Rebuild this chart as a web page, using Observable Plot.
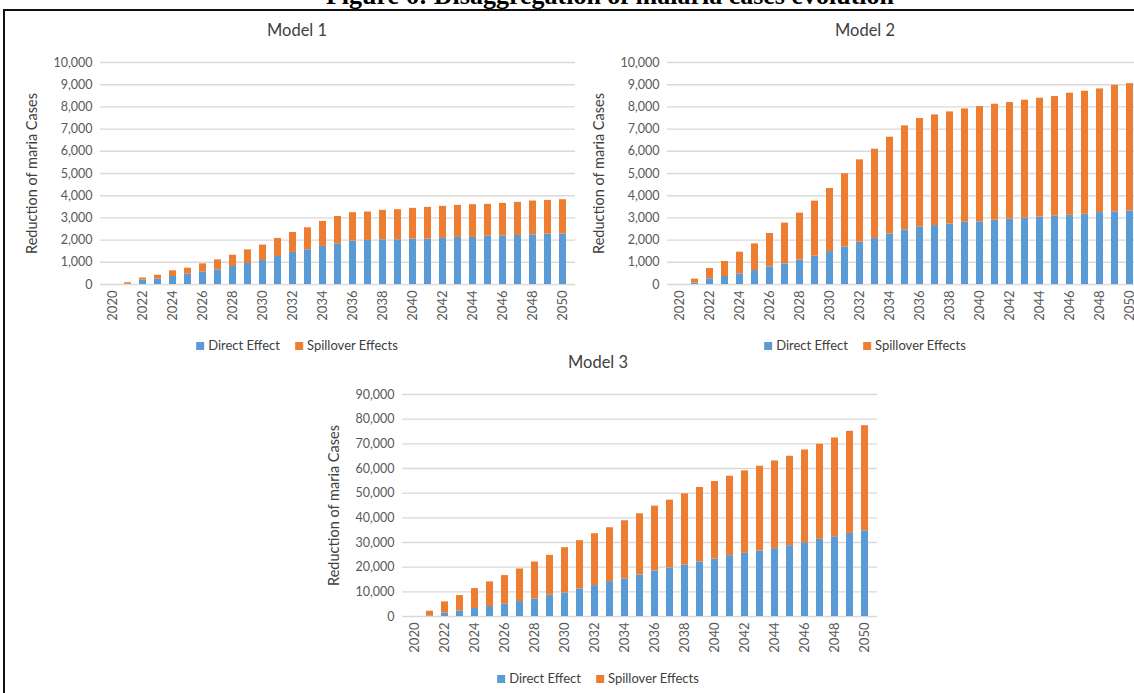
<!DOCTYPE html>
<html>
<head>
<meta charset="utf-8">
<script src="https://cdn.jsdelivr.net/npm/d3@7"></script>
<script src="https://cdn.jsdelivr.net/npm/@observablehq/plot@0.6"></script>
<style>
  html, body { margin: 0; padding: 0; background: #fff; }
  #page { position: relative; width: 1134px; height: 693px; overflow: hidden; background: #fff; font-family: Lato, "Open Sans", sans-serif; }
  #fig-title { position: absolute; left: 0; width: 1220px; top: -19px; text-align: center; font-family: "Liberation Serif", serif; font-weight: bold; font-size: 26px; color: #000; white-space: nowrap; }
  #frame { position: absolute; left: 3px; top: 9px; width: 1200px; height: 800px; border-left: 2px solid #111; border-top: 2px solid #111; }
  .panel { position: absolute; width: 560px; height: 280px; }
  .panel svg { max-width: none; }
  .ptitle { position: absolute; font-size: 16.5px; color: #404040; white-space: nowrap; transform: translateX(-50%); }
  .legend { position: absolute; display: flex; gap: 15px; font-size: 13px; color: #404040; transform: translateX(-50%); white-space: nowrap; }
  .legend span.sw { display: inline-block; width: 8px; height: 8px; margin-right: 4px; vertical-align: 0px; }
</style>
</head>
<body>
<div id="page">
  <div id="fig-title">Figure 6: Disaggregation of malaria cases evolution</div>
  <div id="frame"></div>
</div>
<script>
// Years on the category axis
const years = d3.range(2020, 2051).map(String);
const yearTicks = years.filter(y => +y % 2 === 0);

const seriesNames = ["Direct Effect", "Spillover Effects"];
const seriesColors = ["#5b9bd5", "#ed7d31"];

// Model 1: reduction of malaria cases
const model1Direct = [0, 10, 195, 255, 360, 465, 570, 660, 810, 945, 1080, 1260, 1445, 1565, 1715, 1835, 1955, 1985, 2015, 2015, 2045, 2045, 2075, 2120, 2120, 2180, 2180, 2210, 2240, 2270, 2270];
const model1Spillover = [0, 70, 95, 165, 255, 270, 360, 450, 510, 615, 695, 815, 900, 990, 1125, 1230, 1280, 1280, 1325, 1355, 1385, 1430, 1445, 1445, 1475, 1430, 1475, 1490, 1520, 1520, 1550];

// Model 2
const model2Direct = [0, 60, 255, 360, 480, 630, 795, 930, 1110, 1275, 1485, 1695, 1905, 2070, 2280, 2460, 2595, 2655, 2730, 2805, 2820, 2895, 2940, 2985, 3045, 3075, 3120, 3165, 3240, 3270, 3315];
const model2Spillover = [0, 180, 465, 675, 975, 1200, 1505, 1835, 2105, 2480, 2840, 3290, 3710, 4025, 4355, 4685, 4880, 4985, 5045, 5105, 5195, 5225, 5255, 5315, 5345, 5390, 5495, 5540, 5570, 5705, 5735];

// Model 3
const model3Direct = [0, 200, 1350, 2290, 3230, 4040, 4990, 6065, 7010, 8625, 9570, 11185, 12530, 14150, 15230, 16850, 18460, 19680, 20890, 22100, 23320, 24660, 25610, 26550, 27490, 28710, 29920, 31270, 32350, 33690, 34770];
const model3Spillover = [0, 1950, 4580, 6200, 8090, 9980, 11590, 13205, 15090, 16175, 18330, 19545, 21030, 21830, 23580, 24790, 26280, 27490, 28840, 30190, 31400, 32210, 33420, 34370, 35580, 36250, 37600, 38540, 40020, 41380, 42590];

// Value-axis ticks for each panel
const ticksSmall = d3.range(0, 10001, 1000);
const ticksLarge = d3.range(0, 90001, 10000);

const yTitle = "Reduction of maria Cases";

function stackedPanel(direct, spill, yTicks) {
  const rows = years.flatMap((yr, i) => [
    {year: yr, series: seriesNames[0], value: direct[i]},
    {year: yr, series: seriesNames[1], value: spill[i]}
  ]);
  return Plot.plot({
    width: 560,
    height: 280,
    marginLeft: 80,
    marginRight: 5,
    marginTop: 12,
    marginBottom: 46,
    style: {fontFamily: "Lato, 'Open Sans', sans-serif", fontSize: "12.5px", color: "#595959", background: "transparent", overflow: "visible"},
    x: {type: "band", domain: years, paddingInner: 0.54, paddingOuter: 0.27},
    y: {domain: [0, yTicks[yTicks.length - 1]]},
    color: {domain: seriesNames, range: seriesColors},
    marks: [
      Plot.ruleY(yTicks, {stroke: "#d9d9d9", strokeWidth: 1.4}),
      Plot.barY(rows, {x: "year", y: "value", fill: "series"}),
      Plot.axisY({
        ticks: yTicks, tickSize: 0, tickPadding: 8, tickFormat: d3.format(","),
        label: null, fontSize: 12.5
      }),
      // value-axis title, drawn on its own so it can be a little larger than the ticks
      Plot.axisY({
        ticks: [], label: yTitle, labelAnchor: "center", labelArrow: "none",
        labelOffset: 74, fontSize: 14.5, fill: "#404040"
      }),
      Plot.axisX({ticks: yearTicks, tickSize: 0, tickRotate: -90, tickPadding: 6, label: null, fontSize: 13})
    ]
  });
}

function legend(x, y) {
  const el = document.createElement("div");
  el.className = "legend";
  el.style.left = x + "px";
  el.style.top = y + "px";
  el.innerHTML = seriesNames.map((s, i) =>
    `<div><span class="sw" style="background:${seriesColors[i]}"></span>${s}</div>`).join("");
  return el;
}

function title(text, x, y) {
  const el = document.createElement("div");
  el.className = "ptitle";
  el.textContent = text;
  el.style.left = x + "px";
  el.style.top = y + "px";
  return el;
}

const page = document.getElementById("page");
const panels = [
  {name: "Model 1", direct: model1Direct, spill: model1Spillover, ticks: ticksSmall, left: 20, top: 50, cx: 297, ty: 20, ly: 337},
  {name: "Model 2", direct: model2Direct, spill: model2Spillover, ticks: ticksSmall, left: 587, top: 50, cx: 865, ty: 20, ly: 337},
  {name: "Model 3", direct: model3Direct, spill: model3Spillover, ticks: ticksLarge, left: 322, top: 382, cx: 598, ty: 352, ly: 670}
];
for (const p of panels) {
  const wrap = document.createElement("div");
  wrap.className = "panel";
  wrap.style.left = p.left + "px";
  wrap.style.top = p.top + "px";
  wrap.appendChild(stackedPanel(p.direct, p.spill, p.ticks));
  page.appendChild(wrap);
  page.appendChild(title(p.name, p.cx, p.ty));
  page.appendChild(legend(p.cx, p.ly));
}
</script>
</body>
</html>
